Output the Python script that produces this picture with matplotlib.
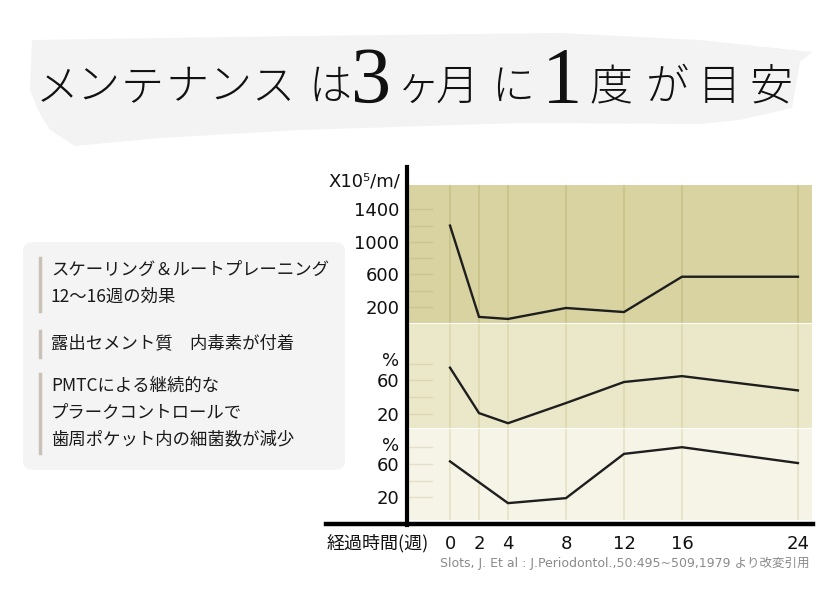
import matplotlib.pyplot as plt
import numpy as np
from matplotlib.patches import Polygon, FancyBboxPatch
from matplotlib.lines import Line2D

plt.rcParams['font.family'] = ['Noto Sans CJK JP', 'DejaVu Sans']

# --- data ---
weeks = [0, 2, 4, 8, 12, 16, 24]
bacteria = [1200, 75, 50, 185, 135, 570, 570]          # x10^5 / ml
middle_pct = [75, 21, 9, 33, 58, 65, 48]               # %
weeks_bottom = [0, 4, 8, 12, 16, 24]
bottom_pct = [63, 13, 19, 72, 80, 61]                  # %

top_ticks = [200, 600, 1000, 1400]
pct_ticks = [20, 60]
week_labels = ['0', '2', '4', '8', '12', '16', '24']

title_chars = ['メ', 'ン', 'テ', 'ナ', 'ン', 'ス', 'は', '3', 'ヶ', '月', 'に', '1', '度', 'が', '目', '安']
notes = [
    ['スケーリング＆ルートプレーニング', '12〜16週の効果'],
    ['露出セメント質　内毒素が付着'],
    ['PMTCによる継続的な', 'プラークコントロールで', '歯周ポケット内の細菌数が減少'],
]
source = 'Slots, J. Et al : J.Periodontol.,50:495~509,1979 より改変引用'

W, H = 832, 600
fig = plt.figure(figsize=(W / 100, H / 100), dpi=100)


def fx(px):
    return px / W


def fy(py):
    return 1 - py / H


# brush stroke behind the title
brush = [(32, 40), (300, 36), (560, 33), (700, 40), (812, 52), (800, 62),
         (792, 108), (740, 120), (700, 124), (520, 123), (300, 130), (160, 138),
         (75, 146), (50, 130), (38, 110), (30, 90)]
fig.patches.append(Polygon([(fx(x), fy(y)) for x, y in brush], closed=True,
                           transform=fig.transFigure, fc='#f3f3f3', ec='none'))

# title, one glyph at a time
centers = [57, 98, 142, 187, 230, 273, 330, 371, 418, 457, 513, 562, 611, 667, 719, 771]
for ch, cx in zip(title_chars, centers):
    if ch.isdigit():
        fig.text(fx(cx), fy(103), ch, ha='center', va='baseline', fontsize=58,
                 family='Liberation Serif', color='#111111')
    else:
        fig.text(fx(cx), fy(100), ch, ha='center', va='baseline', fontsize=31,
                 color='#111111', fontweight='light')

# left note box
fig.patches.append(FancyBboxPatch((fx(23), fy(470)), fx(322), 228 / H,
                                  boxstyle='round,pad=0,rounding_size=0.015',
                                  transform=fig.transFigure, fc='#f4f4f4', ec='none'))
line_y = [[270, 297], [343], [386, 412, 439]]
for block, ys in zip(notes, line_y):
    fig.add_artist(Line2D([fx(40), fx(40)], [fy(ys[0] - 12), fy(ys[-1] + 14)],
                          color='#c9c1b8', lw=2.5))
    for txt, y in zip(block, ys):
        fig.text(fx(51), fy(y), txt, ha='left', va='center', fontsize=12.5,
                 color='#1a1a1a')

# three stacked panels
left, width = fx(409), 403 / W
xlim = (-2.83, 24.97)
panels = [
    dict(top=185, bot=323, ylim=(0, 1700), fc='#d8d3a1', grid='#c9c28a',
         mark='#cbc590', ticks=top_ticks, labels=[str(t) for t in top_ticks],
         minor=range(200, 1600, 200)),
    dict(top=324, bot=428, ylim=(3.3, 127), fc='#ebe8ca', grid='#ddd8ae',
         mark='#dcd7b2', ticks=pct_ticks + [85], labels=['20', '60', '%'],
         minor=[20, 40, 60, 80]),
    dict(top=429, bot=520, ylim=(-7.2, 101.8), fc='#f6f4e7', grid='#e6e1c3',
         mark='#e3dfc8', ticks=pct_ticks + [84], labels=['20', '60', '%'],
         minor=[20, 40, 60, 80]),
]
series = [(weeks, bacteria), (weeks, middle_pct), (weeks_bottom, bottom_pct)]

axes = []
for p, (xs, ys) in zip(panels, series):
    ax = fig.add_axes([left, fy(p['bot']), width, (p['bot'] - p['top']) / H])
    ax.set_facecolor(p['fc'])
    ax.set_xlim(xlim)
    ax.set_ylim(p['ylim'])
    for s in ax.spines.values():
        s.set_visible(False)
    for w in weeks:
        ax.axvline(w, color=p['grid'], lw=1.2, zorder=1)
    for m in p['minor']:
        ax.axhline(m, xmin=0, xmax=0.057, color=p['mark'], lw=1, zorder=1)
    ax.plot(xs, ys, color='#1e1e1e', lw=1.7, zorder=3, solid_joinstyle='miter')
    ax.set_yticks(p['ticks'])
    ax.set_yticklabels(p['labels'], family='DejaVu Sans', fontsize=13, color='#111111')
    ax.tick_params(axis='y', length=0, pad=7)
    ax.set_xticks([])
    axes.append(ax)

axes[-1].set_xticks(weeks)
axes[-1].set_xticklabels(week_labels, family='DejaVu Sans', fontsize=13, color='#111111')
axes[-1].tick_params(axis='x', length=0, pad=11)

# thick axis lines
fig.add_artist(Line2D([fx(407), fx(407)], [fy(167), fy(525)], color='black', lw=3))
fig.add_artist(Line2D([fx(326), fx(813)], [fy(524), fy(524)], color='black', lw=3.2))

fig.text(fx(400), fy(181), 'X10⁵/m/', ha='right', va='center', fontsize=13,
         family='DejaVu Sans', color='#111111')
fig.text(fx(327), fy(543), '経過時間(週)', ha='left', va='center', fontsize=13,
         color='#111111')
fig.text(fx(809), fy(563), source, ha='right', va='center', fontsize=9,
         family=['DejaVu Sans', 'Noto Sans CJK JP'], color='#8a8a8a')

fig.savefig('out.png', dpi=100)
